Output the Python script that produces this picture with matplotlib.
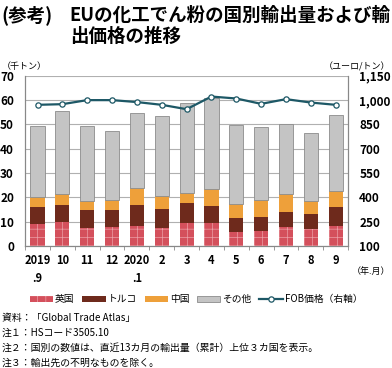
import matplotlib.pyplot as plt
import numpy as np

plt.rcParams['font.family'] = ['Noto Sans CJK JP', 'DejaVu Sans']

# x categories (year.month)
months = ['2019\n.9', '10', '11', '12', '2020\n.1', '2', '3', '4', '5', '6', '7', '8', '9']

# export volume, thousand tons (cumulative tops)
uk     = [9.0, 9.7, 7.5, 7.8, 8.4, 7.3, 9.3, 9.3, 5.8, 6.3, 7.7, 6.8, 8.2]
turkey = [6.9, 7.1, 7.2, 7.1, 8.4, 7.9, 8.4, 7.1, 5.6, 5.6, 6.1, 6.5, 7.8]
china  = [4.4, 4.6, 3.8, 4.0, 7.0, 5.5, 4.1, 6.9, 5.9, 6.9, 7.4, 5.3, 6.5]
other  = [29.2, 34.2, 30.8, 28.2, 31.1, 32.7, 37.2, 37.4, 32.3, 30.2, 29.1, 27.7, 31.2]

# FOB price, euro/ton (right axis)
fob = [971, 975, 1000, 1000, 988, 971, 944, 1022, 1010, 977, 1006, 985, 971]

c_uk = '#d4505c'
c_tr = '#6e2a1c'
c_cn = '#eea03a'
c_ot = '#c4c4c4'
c_line = '#1d5866'

fig = plt.figure(figsize=(3.92, 3.68), dpi=100)
ax = fig.add_axes([0.064, 0.3315, 0.824, 0.4625])

x = np.arange(len(months))
w = 0.57
b1 = np.array(uk)
b2 = b1 + np.array(turkey)
b3 = b2 + np.array(china)

plt.rcParams['hatch.linewidth'] = 0.5
ax.bar(x, uk, w, color=c_uk, edgecolor='#eba0a7', linewidth=0, hatch='++', label='英国', zorder=3)
ax.bar(x, turkey, w, bottom=b1, color=c_tr, linewidth=0, label='トルコ', zorder=3)
ax.bar(x, china, w, bottom=b2, color=c_cn, linewidth=0, label='中国', zorder=3)
ax.bar(x, other, w, bottom=b3, color=c_ot, edgecolor='#8c8c8c', linewidth=0.6, label='その他', zorder=3)

ax.set_xlim(-0.5, len(months) - 0.5)
ax.set_ylim(0, 70)
ax.set_yticks(range(0, 71, 10))
ax.grid(axis='y', color='#b0b0b0', linewidth=0.8, zorder=0)
ax.set_axisbelow(True)
ax.spines['top'].set_visible(False)
for s in ['left', 'right', 'bottom']:
    ax.spines[s].set_color('#888888')
    ax.spines[s].set_linewidth(0.8)

ax.set_xticks(x)
ax.set_xticklabels(months, fontsize=8, fontweight='bold', va='top', linespacing=1.5)
ax.set_xticks(np.arange(-0.5, len(months), 1), minor=True)
ax.tick_params(axis='x', which='major', length=0, pad=6)
ax.tick_params(axis='x', which='minor', length=3, direction='out', color='#888888')
ax.tick_params(axis='y', length=0, labelsize=8.5, pad=8)
for t in ax.get_yticklabels():
    t.set_fontweight('bold')

ax2 = ax.twinx()
ax2.plot(x, fob, color=c_line, linewidth=1.6, marker='o', markersize=3.8,
         markerfacecolor='white', markeredgecolor=c_line, markeredgewidth=0.9,
         label='FOB価格（右軸）', zorder=5)
ax2.set_ylim(100, 1150)
ax2.set_yticks(range(100, 1151, 150))
ax2.set_yticklabels([f'{v:,}' for v in range(100, 1151, 150)], fontsize=8.5, fontweight='bold')
ax2.tick_params(axis='y', length=0, pad=8)
ax2.spines['top'].set_visible(False)
for s in ['left', 'right', 'bottom']:
    ax2.spines[s].set_color('#888888')
    ax2.spines[s].set_linewidth(0.8)

# titles and units
fig.text(0.003, 0.985, '(参考)', fontsize=13.3, fontweight='bold', va='top', ha='left')
fig.text(0.178, 0.985, 'EUの化工でん粉の国別輸出量および輸\n出価格の推移', fontsize=13.3,
         fontweight='bold', va='top', ha='left', linespacing=1.15)
fig.text(0.005, 0.818, '（千トン）', fontsize=6.5, va='center', ha='left')
fig.text(0.995, 0.818, '（ユーロ/トン）', fontsize=6.5, va='center', ha='right')
fig.text(0.995, 0.261, '（年.月）', fontsize=6.5, va='center', ha='right')

h1, l1 = ax.get_legend_handles_labels()
h2, l2 = ax2.get_legend_handles_labels()
fig.legend(h1 + h2, l1 + l2, loc='center', bbox_to_anchor=(0.5, 0.187), ncol=5,
           frameon=False, fontsize=7, handlelength=2.4, handleheight=0.55,
           handletextpad=0.2, columnspacing=0.8)

notes = ['資料：「Global Trade Atlas」',
         '注１：HSコード3505.10',
         '注２：国別の数値は、直近13カ月の輸出量（累計）上位３カ国を表示。',
         '注３：輸出先の不明なものを除く。']
for i, n in enumerate(notes):
    fig.text(0.005, 0.135 - i * 0.0405, n, fontsize=7.1, va='center', ha='left')

fig.savefig('out.png', dpi=100)
